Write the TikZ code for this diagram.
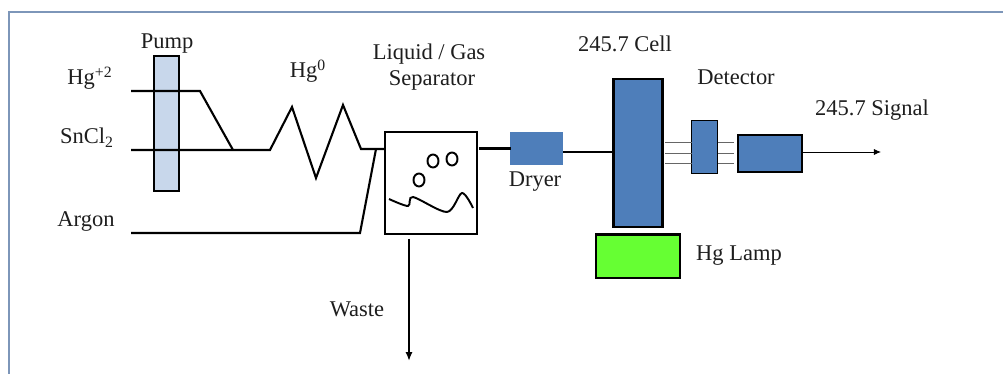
\documentclass[tikz,border=0pt]{standalone}
\usepackage{fontspec}
\setmainfont{Liberation Serif}
\definecolor{hgframe}{RGB}{125,150,185}
\definecolor{hgpump}{RGB}{200,215,235}
\definecolor{hgblue}{RGB}{78,126,186}
\definecolor{hggreen}{RGB}{102,255,51}
\definecolor{hgtext}{RGB}{30,30,30}
\usetikzlibrary{arrows.meta, calc}
\tikzset{
  lbl/.style={font=\fontsize{12.8}{15}\selectfont, text=hgtext, anchor=base, inner sep=0pt},
  unit/.style={draw=black, line width=1.2pt, outer sep=0pt, inner sep=0pt},
  tube/.style={line width=1.2pt, black, line join=miter},
  beam/.style={line width=0.5pt, black!60}
}

\begin{document}
\begin{tikzpicture}
  \useasboundingbox (0,0) rectangle (20.06,7.48);
  % Slide border
  \draw[line width=0.9pt, hgframe] (0.18,0) -- (0.18,7.24) -- (20.06,7.24);

  % --- Units ---
  \node[unit, fill=hgpump, minimum width=0.5cm, minimum height=2.7cm] (pump) at (3.33,5.01) {};
  \node[unit, fill=white, minimum width=1.84cm, minimum height=2.04cm] (sep) at (8.62,3.82) {};
  \node[unit, draw=hgblue, fill=hgblue, minimum width=1.02cm, minimum height=0.62cm] (dryer) at (10.73,4.51) {};
  \node[unit, fill=hgblue, minimum width=0.98cm, minimum height=2.96cm] (cell) at (12.76,4.42) {};
  \node[unit, fill=hggreen, minimum width=1.67cm, minimum height=0.87cm] (lamp) at (12.76,2.355) {};
  \node[unit, line width=1.1pt, fill=hgblue, minimum width=0.52cm, minimum height=1.06cm] (det) at (14.09,4.54) {};
  \node[unit, fill=hgblue, minimum width=1.28cm, minimum height=0.74cm] (amp) at (15.4,4.41) {};

  % --- Labels ---
  \node[lbl] (pumplbl) at (3.34,6.5) {Pump};
  \node[lbl] (hglbl) at (1.8,5.78) {Hg\textsuperscript{+2}};
  \node[lbl] (snlbl) at (1.74,4.6) {SnCl\textsubscript{2}};
  \node[lbl] (arlbl) at (1.72,2.94) {Argon};
  \node[lbl] (hgzero) at (6.16,5.92) {Hg\textsuperscript{0}};
  \node[lbl] (seplbla) at (8.58,6.29) {Liquid / Gas};
  \node[lbl] (seplblb) at (8.64,5.76) {Separator};
  \node[lbl] (wastelbl) at (7.14,1.14) {Waste};
  \node[lbl] (dryerlbl) at (10.7,3.74) {Dryer};
  \node[lbl] (celllbl) at (12.5,6.44) {245.7 Cell};
  \node[lbl] (detlbl) at (14.72,5.78) {Detector};
  \node[lbl] (siglbl) at (17.44,5.16) {245.7 Signal};
  \node[lbl] (lamplbl) at (14.78,2.26) {Hg Lamp};

  % --- Tubing, free ends and bends ---
  \coordinate (hgin) at (2.62,5.66);
  \coordinate (hgbend) at (4.0,5.66);
  \coordinate (snin) at (2.62,4.48);
  \coordinate (merge) at (4.66,4.48);
  \coordinate (coila) at (5.4,4.48);
  \coordinate (coilb) at (5.84,5.34);
  \coordinate (coilc) at (6.32,3.92);
  \coordinate (coild) at (6.86,5.38);
  \coordinate (coile) at (7.22,4.5);
  \coordinate (arin) at (2.62,2.82);
  \coordinate (arbend) at (7.2,2.82);
  \coordinate (arjoin) at (7.52,4.5);
  \coordinate (wasteend) at (8.18,0.26);
  \coordinate (sigend) at (17.62,4.44);

  \draw[tube] (hgin) -- (hgbend) -- (merge);
  \draw[tube] (snin) -- (coila) -- (coilb) -- (coilc) -- (coild) -- (coile) -- (sep.west |- coile);
  \draw[tube] (arin) -- (arbend) -- (arjoin);
  \draw[tube, shorten <=0.04cm] (sep.east |- dryer.west) -- (dryer.west);
  \draw[tube, line width=1.5pt, shorten <=0.02cm] (dryer.east |- sigend) -- (cell.west |- sigend);
  \draw[line width=1pt, -{Latex[length=5pt,width=4pt]}, shorten <=0.1cm] (sep.south -| wasteend) -- (wasteend);
  \draw[line width=0.5pt, -{Latex[length=4pt,width=3.5pt]}] (amp.east |- sigend) -- (sigend);

  % Light paths either side of the detector
  \foreach \y in {4.64,4.42,4.22} {
    \draw[beam, shorten <=0.05cm] (cell.east |- 0,\y) -- (det.west |- 0,\y);
    \draw[beam, shorten >=0.08cm] (det.east |- 0,\y) -- (amp.west |- 0,\y);
  }

  % Bubbles and liquid surface
  \draw[line width=1.1pt] (8.38,3.88) ellipse (0.11 and 0.13);
  \draw[line width=1.1pt] (8.66,4.26) ellipse (0.11 and 0.13);
  \draw[line width=1.1pt] (9.04,4.30) ellipse (0.11 and 0.13);
  \draw[line width=1.1pt] plot[smooth, tension=0.5] coordinates {(7.78,3.5) (8.16,3.36) (8.26,3.54) (8.94,3.24) (9.24,3.62) (9.46,3.32)};
\end{tikzpicture}
\end{document}
